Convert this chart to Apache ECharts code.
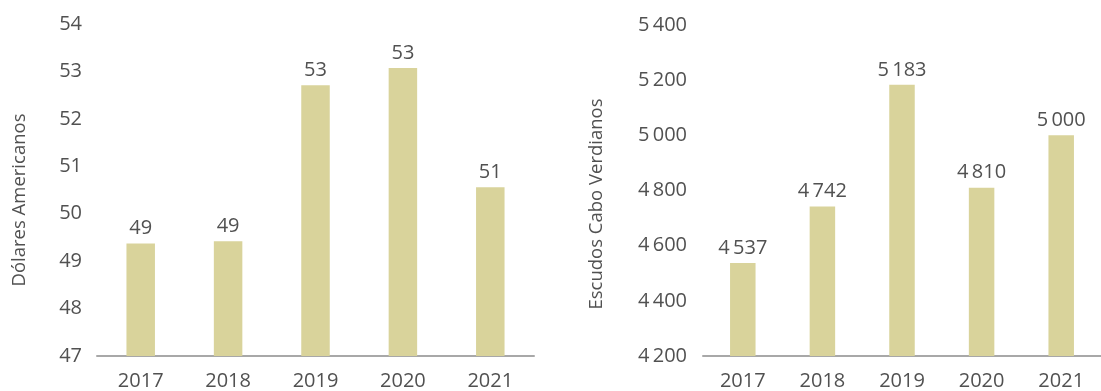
<!DOCTYPE html>
<html>
<head>
<meta charset="utf-8">
<script src="https://cdn.jsdelivr.net/npm/echarts@6/dist/echarts.min.js"></script>
<style>
html,body{margin:0;padding:0;background:#fff;overflow:hidden;}
#c{width:1101px;height:391px;}
</style>
</head>
<body>
<div id="c"></div>
<script>
const years = ['2017', '2018', '2019', '2020', '2021'];
const usdValues = [49.37, 49.42, 52.71, 53.07, 50.56];
const cveValues = [4537, 4742, 5183, 4810, 5000];
const usdAxisName = 'Dólares Americanos';
const cveAxisName = 'Escudos Cabo Verdianos';

const FONT = '"Open Sans", "Noto Sans", sans-serif';
const TXT = '#515151';
const BAR = '#d9d39b';

function spaced(v) {
  return String(Math.round(v)).replace(/\B(?=(\d{3})+(?!\d))/g, '\u2009');
}

const chart = echarts.init(document.getElementById('c'), null, {renderer: 'canvas'});
chart.setOption({
  animation: false,
  backgroundColor: '#ffffff',
  textStyle: {fontFamily: FONT},
  grid: [
    {left: 97, top: 24, width: 437, height: 337},
    {left: 703, top: 25, width: 410, height: 335}
  ],
  xAxis: [0, 1].map(i => ({
    type: 'category',
    gridIndex: i,
    data: years,
    axisLine: {show: true, lineStyle: {color: '#a8a8a8', width: 2}},
    axisTick: {show: false},
    axisLabel: {color: TXT, fontSize: 20, fontFamily: FONT, margin: 15}
  })),
  yAxis: [
    {
      type: 'value', gridIndex: 0, min: 47, max: 54, interval: 1,
      name: usdAxisName, nameLocation: 'middle', nameGap: 68,
      nameTextStyle: {color: TXT, fontSize: 18.5, fontFamily: FONT, padding: [0, 20, 0, 0]},
      axisLine: {show: false}, axisTick: {show: false}, splitLine: {show: false},
      axisLabel: {color: TXT, fontSize: 20, fontFamily: FONT, margin: 15}
    },
    {
      type: 'value', gridIndex: 1, min: 4200, max: 5400, interval: 200,
      name: cveAxisName, nameLocation: 'middle', nameGap: 97,
      nameTextStyle: {color: TXT, fontSize: 18.5, fontFamily: FONT, padding: [0, 27, 0, 0]},
      axisLine: {show: false}, axisTick: {show: false}, splitLine: {show: false},
      axisLabel: {color: TXT, fontSize: 20, fontFamily: FONT, margin: 16, formatter: v => spaced(v)}
    }
  ],
  series: [
    {
      type: 'bar', xAxisIndex: 0, yAxisIndex: 0, data: usdValues,
      barWidth: 28.5, itemStyle: {color: BAR},
      label: {show: true, position: 'top', distance: 5, color: TXT, fontSize: 20, fontFamily: FONT,
        formatter: p => String(Math.round(p.value))}
    },
    {
      type: 'bar', xAxisIndex: 1, yAxisIndex: 1, data: cveValues,
      barWidth: 25.5, itemStyle: {color: BAR},
      label: {show: true, position: 'top', distance: 5, color: TXT, fontSize: 20, fontFamily: FONT,
        formatter: p => spaced(p.value)}
    }
  ]
});
</script>
</body>
</html>
